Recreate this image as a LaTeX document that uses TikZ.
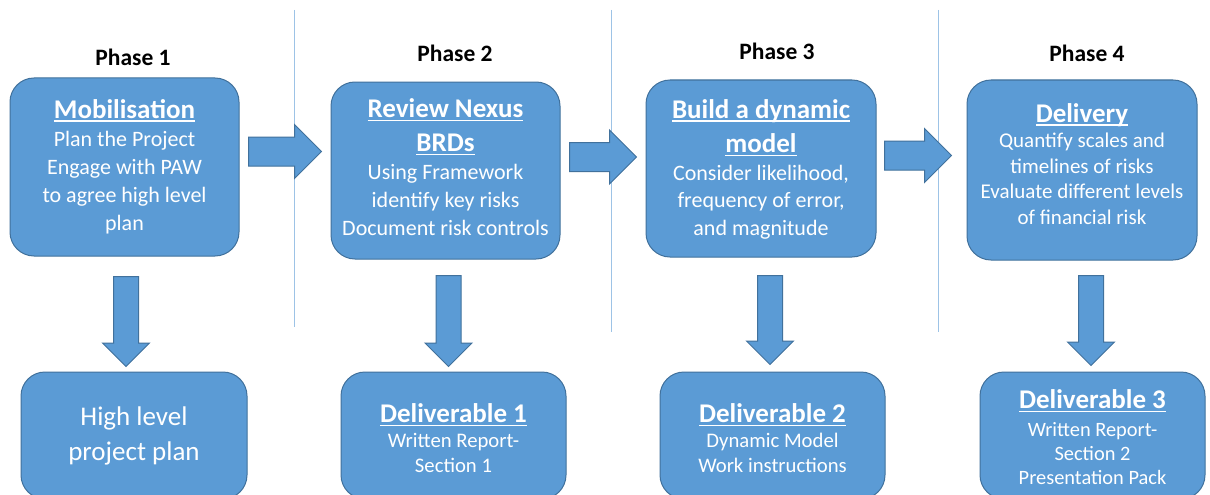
\documentclass[tikz,border=0pt]{standalone}
\usepackage{fontspec}
\setmainfont{Carlito}
\usetikzlibrary{shapes.arrows}

\definecolor{boxfill}{HTML}{5B9BD5}
\definecolor{boxedge}{HTML}{41719C}
\definecolor{divider}{HTML}{9DC3E6}

% underline that sits at a fixed depth below the baseline
\newcommand\ulin[1]{\leavevmode\setbox0=\hbox{#1}\rlap{\rule[-3.5pt]{\wd0}{1.4pt}}\box0}
\newcommand\ttl{\fontsize{27}{33}\selectfont\bfseries}
\newcommand\bodysize[2]{\fontsize{#1}{#2}\selectfont}

\tikzset{
  card/.style={draw=boxedge, fill=boxfill, line width=1pt, rounded corners=24pt,
               rectangle, inner sep=0pt},
  cardtext/.style={text=white, align=center, inner sep=0pt},
  phase/.style={inner sep=0pt, font=\fontsize{23.5}{28}\selectfont\bfseries},
  blockarrow/.style={single arrow, draw=boxedge, fill=boxfill, line width=1pt,
               inner sep=0pt, minimum width=0pt, anchor=tail},
  rightarrow/.style={blockarrow, inner ysep=14pt, single arrow head extend=12.5pt},
  downarrow/.style={blockarrow, inner xsep=12pt, inner ysep=0pt,
               single arrow head extend=11pt, shape border rotate=270},
  divline/.style={draw=divider, line width=1pt}
}

\begin{document}
\begin{tikzpicture}[x=1pt,y=-1pt]
\useasboundingbox (0,0) rectangle (1210,495);
\fill[white] (0,0) rectangle (1210,495);
\clip (0,0) rectangle (1210,495);

% phase separators
\coordinate (s1t) at (294,10);  \coordinate (s1b) at (294,327);
\coordinate (s2t) at (611,10);  \coordinate (s2b) at (611,332);
\coordinate (s3t) at (938,10);  \coordinate (s3b) at (938,332);
\draw[divline] (s1t) -- (s1b);
\draw[divline] (s2t) -- (s2b);
\draw[divline] (s3t) -- (s3b);

% phase headings
\node[phase] (p1) at (133,57) {Phase 1};
\node[phase] (p2) at (455,53) {Phase 2};
\node[phase] (p3) at (777,51) {Phase 3};
\node[phase] (p4) at (1087,53) {Phase 4};

% activity cards
\node[card, minimum width=229pt, minimum height=178pt] (b1) at (124.5,167) {};
\node[card, minimum width=229pt, minimum height=177pt] (b2) at (445.5,170.5) {};
\node[card, minimum width=230pt, minimum height=177pt] (b3) at (761,168.5) {};
\node[card, minimum width=230pt, minimum height=180pt] (b4) at (1082,170) {};

\node[cardtext, font=\bodysize{22}{28}] (t1) at (124.5,166.5)
  {{\ttl\ulin{Mobilisation}}\\Plan the Project\\Engage with PAW\\to agree high level\\plan};
\node[cardtext, font=\bodysize{22}{28}] (t2) at (445.5,167.5)
  {{\ttl\ulin{Review Nexus}}\\[6pt]{\ttl\ulin{BRDs}}\\Using Framework\\identify key risks\\Document risk controls};
\node[cardtext, font=\bodysize{22}{27.5}] (t3) at (761,169)
  {{\ttl\ulin{Build a dynamic}}\\[7pt]{\ttl\ulin{model}}\\Consider likelihood,\\frequency of error,\\and magnitude};
\node[cardtext, font=\bodysize{21}{25.5}] (t4) at (1082,164)
  {{\ttl\ulin{Delivery}}\\Quantify scales and\\timelines of risks\\Evaluate different levels\\of financial risk};

% output cards
\node[card, minimum width=226pt, minimum height=127pt] (d1) at (134,435.5) {};
\node[card, minimum width=225pt, minimum height=127pt] (d2) at (453.5,435.5) {};
\node[card, minimum width=225pt, minimum height=127pt] (d3) at (772.5,435.5) {};
\node[card, minimum width=225pt, minimum height=127pt] (d4) at (1092.5,435.5) {};

\node[cardtext, font=\bodysize{27}{35}] (u1) at (134,435.5)
  {High level\\project plan};
\node[cardtext, font=\bodysize{20.7}{25}] (u2) at (453.5,438)
  {{\ttl\ulin{Deliverable 1}}\\Written Report-\\Section 1};
\node[cardtext, font=\bodysize{20.7}{25}] (u3) at (772.5,438)
  {{\ttl\ulin{Deliverable 2}}\\Dynamic Model\\Work instructions};
\node[cardtext, font=\bodysize{20.4}{24}] (u4) at (1092.5,437.5)
  {{\ttl\ulin{Deliverable 3}}\\[4pt]Written Report-\\Section 2\\Presentation Pack};

% arrows between phases
\node[rightarrow, minimum height=73pt] (r1) at (248,151.5) {};
\node[rightarrow, minimum height=67pt] (r2) at (569,157) {};
\node[rightarrow, minimum height=67pt] (r3) at (884,155.5) {};

% arrows from activities to outputs
\node[downarrow, minimum height=90pt] (a1) at (126,276) {};
\node[downarrow, minimum height=91pt] (a2) at (448.5,275) {};
\node[downarrow, minimum height=89pt] (a3) at (770,275) {};
\node[downarrow, minimum height=90pt] (a4) at (1091,275) {};
\end{tikzpicture}
\end{document}
